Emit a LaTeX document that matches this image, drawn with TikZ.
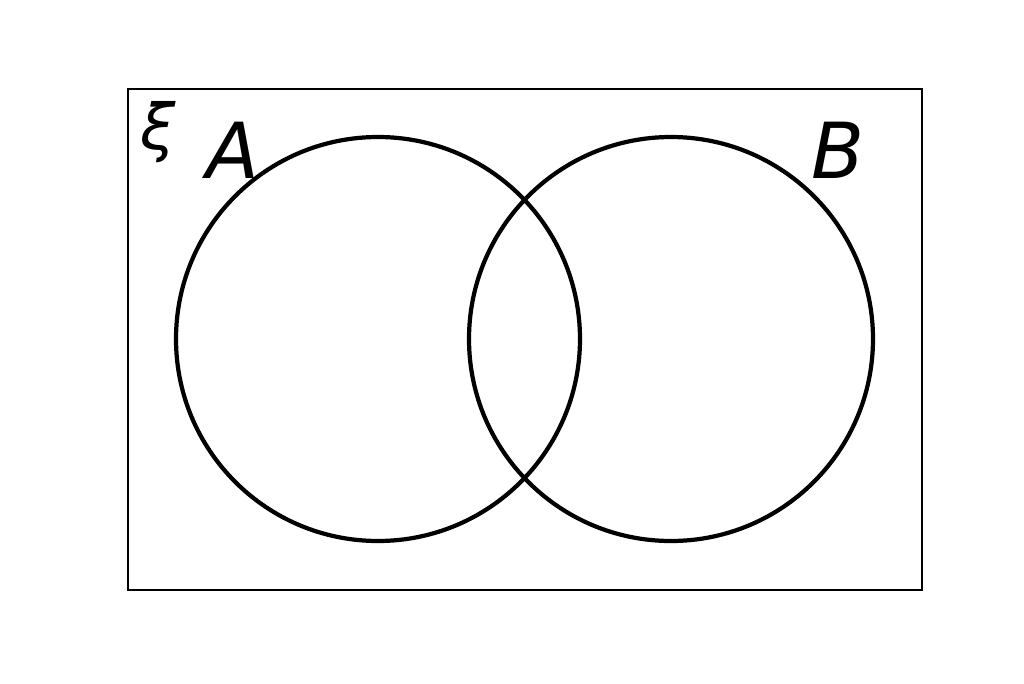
\documentclass[tikz,border=0pt]{standalone}
\usepackage{fontspec}
\setmainfont{DejaVu Sans}
\begin{document}
\begin{tikzpicture}[
        set/.style={draw=black, line width=1.2pt},
        lbl/.style={font=\fontsize{22}{26}\selectfont\itshape, inner sep=0pt}
    ]
    \useasboundingbox (0,0) rectangle (10.24,6.83);

    % universe
    \draw[line width=0.45pt] (1.28,0.93) rectangle (9.22,5.94);

    % sets
    \node[set, circle, minimum size=4.04cm] (setA) at (3.78,3.44) {};
    \node[set, circle, minimum size=4.04cm] (setB) at (6.71,3.44) {};

    \node[font=\fontsize{18}{22}\selectfont\itshape, inner sep=0pt] (xi) at (1.58,5.51) {ξ};
    \node[lbl] (labA) at (2.33,5.33) {A};
    \node[lbl] (labB) at (8.38,5.33) {B};
\end{tikzpicture}
\end{document}
